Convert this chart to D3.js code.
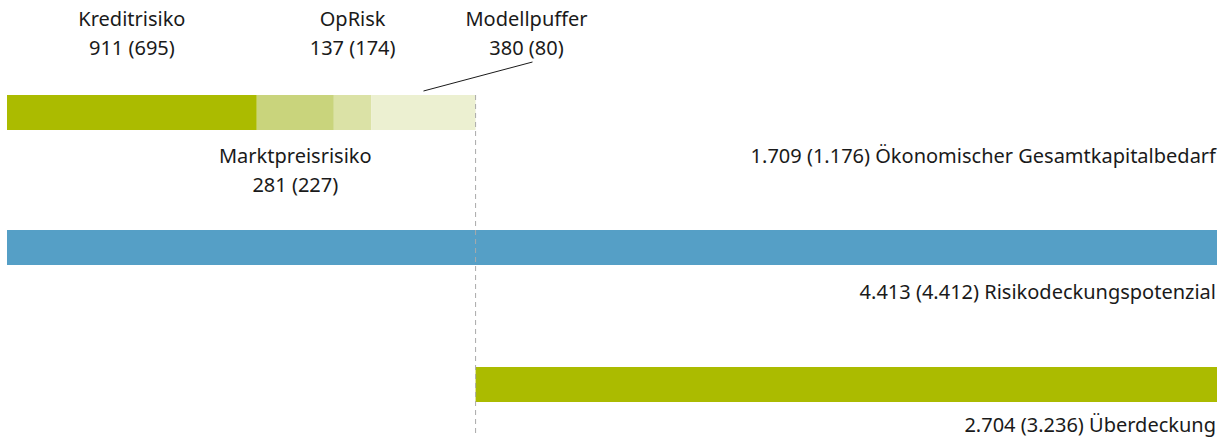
<html>
<script src='https://d3js.org/d3.v7.min.js'></script>
<style>
body {margin:0; background:#fff;}
text {font-family: 'Noto Sans', sans-serif; font-size: 20px; fill: #1a1a1a;}
</style>
<body onload='init()'>
<svg width=1225 height=441></svg>
<script>
var segNames = ["Kreditrisiko", "Marktpreisrisiko", "OpRisk", "Modellpuffer"];
var segValues = [911, 281, 137, 380];
var segPrev = [695, 227, 174, 80];
var segColors = ["#abbb00", "#c9d47c", "#dbe2a6", "#ecf0d1"];
var totalLabels = ["1.709 (1.176) Ökonomischer Gesamtkapitalbedarf", "4.413 (4.412) Risikodeckungspotenzial", "2.704 (3.236) Überdeckung"];
var rdp = 4413;
var ueberdeckung = 2704;

function init() {
    var svg = d3.select("svg");
    var x = d3.scaleLinear().domain([0, rdp]).range([7, 1217]);
    var barH = 35;
    var rows = [95, 230, 367];

    // stacked segments
    var start = 0;
    var segs = segValues.map(function(v, i) {
        var s = {name: segNames[i], v: v, prev: segPrev[i], x0: start, x1: start + v, c: segColors[i]};
        start += v;
        return s;
    });
    var total = start;

    svg.selectAll("rect.seg").data(segs).enter().append("rect")
        .attr("x", function(d){return x(d.x0)})
        .attr("width", function(d){return x(d.x1) - x(d.x0)})
        .attr("y", rows[0]).attr("height", barH)
        .attr("fill", function(d){return d.c});

    svg.append("rect").attr("x", x(0)).attr("width", x(rdp) - x(0))
        .attr("y", rows[1]).attr("height", barH).attr("fill", "#559fc6");

    svg.append("rect").attr("x", x(total)).attr("width", x(total + ueberdeckung) - x(total))
        .attr("y", rows[2]).attr("height", barH).attr("fill", "#abbb00");

    // dashed line
    svg.append("line").attr("x1", x(total)).attr("x2", x(total))
        .attr("y1", rows[0]).attr("y2", 437)
        .attr("stroke", "#aaa").attr("stroke-width", 1).attr("stroke-dasharray", "5,4");

    // segment labels
    function label(name, val, cx, y) {
        var t = svg.append("text").attr("text-anchor", "middle");
        t.append("tspan").attr("x", cx).attr("y", y).text(name);
        t.append("tspan").attr("x", cx).attr("y", y + 29).text(val);
    }
    var mid = function(d){return (x(d.x0) + x(d.x1)) / 2};
    label(segs[0].name, segs[0].v + " (" + segs[0].prev + ")", mid(segs[0]), 26);
    label(segs[2].name, segs[2].v + " (" + segs[2].prev + ")", mid(segs[2]), 26);
    label(segs[1].name, segs[1].v + " (" + segs[1].prev + ")", mid(segs[1]), 163);
    label(segs[3].name, segs[3].v + " (" + segs[3].prev + ")", mid(segs[3]) + 103, 26);

    svg.append("line").attr("x1", mid(segs[3])).attr("y1", 91)
        .attr("x2", mid(segs[3]) + 109).attr("y2", 62)
        .attr("stroke", "#1a1a1a").attr("stroke-width", 1);

    // total labels
    var ty = [163, 299, 432];
    totalLabels.forEach(function(t, i) {
        svg.append("text").attr("x", 1216).attr("y", ty[i]).attr("text-anchor", "end").text(t);
    });
}
</script>
</body>
</html>
